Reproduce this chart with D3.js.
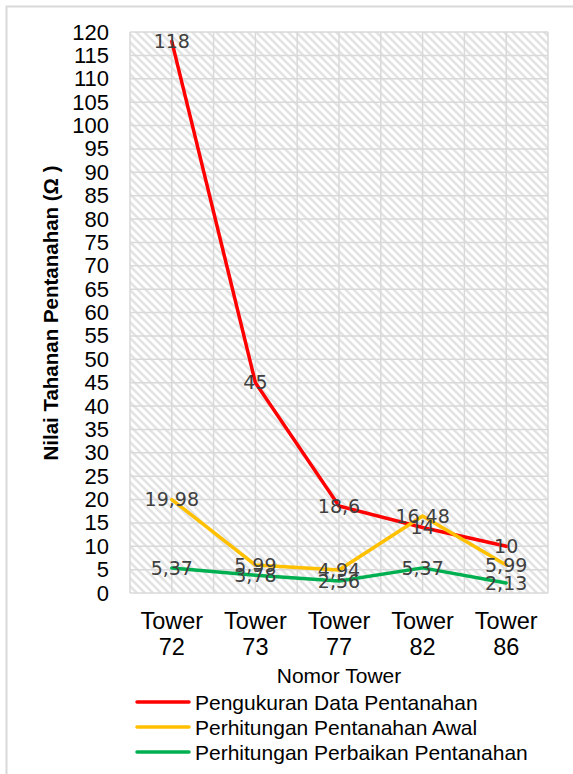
<!DOCTYPE html>
<html>
<head>
<meta charset="utf-8">
<script src="https://cdn.jsdelivr.net/npm/d3@7/dist/d3.min.js"></script>
<style>
  html, body { margin: 0; padding: 0; background: #fff; }
  svg { display: block; }
</style>
</head>
<body>
<svg id="chart" width="573" height="774"></svg>
<script>
// Tower categories and grounding resistance values (Ω)
const categories = ["Tower 72", "Tower 73", "Tower 77", "Tower 82", "Tower 86"];
const pengukuran = [118, 45, 18.6, 14, 10];
const awal = [19.98, 5.99, 4.94, 16.48, 5.99];
const perbaikan = [5.37, 3.78, 2.56, 5.37, 2.13];
const yTicks = d3.range(0, 121, 5);

const seriesList = [
  { name: "Pengukuran Data Pentanahan", values: pengukuran, color: "#FF0000" },
  { name: "Perhitungan Pentanahan Awal", values: awal, color: "#FFC000" },
  { name: "Perhitungan Perbaikan Pentanahan", values: perbaikan, color: "#00B050" }
];

const svg = d3.select("#chart");
const plot = { left: 130, right: 548, top: 32, bottom: 593 };

// Outer chart frame
svg.append("path")
  .attr("d", "M6.5,780 V6.5 H580")
  .attr("fill", "none").attr("stroke", "#d9d9d9").attr("stroke-width", 2);

// Diagonal hatch fill for the plot area
const defs = svg.append("defs");
const pat = defs.append("pattern")
  .attr("id", "hatch").attr("patternUnits", "userSpaceOnUse")
  .attr("width", 8).attr("height", 8);
pat.append("rect").attr("width", 8).attr("height", 8).attr("fill", "#fff");
pat.append("path")
  .attr("d", "M-2,-2 L10,10 M-2,6 L2,10 M6,-2 L10,2")
  .attr("stroke", "#e3e3e3").attr("stroke-width", 2.6);

const x = d3.scaleBand().domain(categories).range([plot.left, plot.right]).padding(0);
const xc = c => x(c) + x.bandwidth() / 2;
const y = d3.scaleLinear().domain([0, 120]).range([plot.bottom, plot.top]);

svg.append("rect")
  .attr("x", plot.left).attr("y", plot.top)
  .attr("width", plot.right - plot.left).attr("height", plot.bottom - plot.top)
  .attr("fill", "url(#hatch)");

// Gridlines
const grid = svg.append("g").attr("stroke", "#d9d9d9").attr("stroke-width", 1.5);
yTicks.forEach(t => {
  grid.append("line").attr("x1", plot.left).attr("x2", plot.right)
    .attr("y1", y(t)).attr("y2", y(t));
});
const vLines = [];
categories.forEach(c => { vLines.push(x(c)); vLines.push(xc(c)); });
vLines.push(plot.right);
vLines.forEach(v => {
  grid.append("line").attr("x1", v).attr("x2", v)
    .attr("y1", plot.top).attr("y2", plot.bottom);
});

// Y axis tick labels
const yAxis = d3.axisLeft(y).tickValues(yTicks).tickSize(0).tickPadding(0);
const gy = svg.append("g").attr("transform", `translate(${plot.left - 21},0)`).call(yAxis);
gy.select(".domain").remove();
gy.selectAll("text")
  .attr("font-family", "'Liberation Sans', Arial, sans-serif")
  .attr("font-size", 22).attr("fill", "#000");

// X axis tick labels (two lines)
const xAxis = d3.axisBottom(x).tickSize(0).tickFormat(() => "");
const gx = svg.append("g").attr("transform", `translate(0,${plot.bottom})`).call(xAxis);
gx.select(".domain").remove();
gx.selectAll(".tick").each(function(d) {
  const parts = d.split(" ");
  const t = d3.select(this).select("text")
    .attr("font-family", "'Liberation Sans', Arial, sans-serif")
    .attr("font-size", 23.5).attr("fill", "#000").attr("y", 0).attr("dy", null);
  t.append("tspan").attr("x", 0).attr("y", 36).text(parts[0]);
  t.append("tspan").attr("x", 0).attr("y", 62).text(parts[1]);
});

// Axis titles
svg.append("text")
  .attr("x", (plot.left + plot.right) / 2).attr("y", 683)
  .attr("text-anchor", "middle")
  .attr("font-family", "'Liberation Sans', Arial, sans-serif")
  .attr("font-size", 21).attr("fill", "#000")
  .text("Nomor Tower");

svg.append("text")
  .attr("transform", "translate(58,313) rotate(-90)")
  .attr("text-anchor", "middle")
  .attr("font-family", "'Liberation Sans', Arial, sans-serif")
  .attr("font-weight", "bold")
  .attr("font-size", 20.5).attr("fill", "#000")
  .text("Nilai Tahanan Pentanahan (Ω )");

// Series lines
const line = d3.line().x((v, i) => xc(categories[i])).y(v => y(v));
seriesList.forEach(s => {
  svg.append("path").datum(s.values)
    .attr("d", line)
    .attr("fill", "none").attr("stroke", s.color)
    .attr("stroke-width", 3.5).attr("stroke-linejoin", "round").attr("stroke-linecap", "round");
});

// Data labels centred on each point
const fmt = v => String(v).replace(".", ",");
seriesList.forEach(s => {
  s.values.forEach((v, i) => {
    svg.append("text")
      .attr("x", xc(categories[i])).attr("y", y(v))
      .attr("dy", "0.36em")
      .attr("text-anchor", "middle")
      .attr("font-family", "'DejaVu Sans', sans-serif")
      .attr("font-size", 19).attr("fill", "#404040")
      .text(fmt(v));
  });
});

// Legend
const legend = svg.append("g");
seriesList.forEach((s, i) => {
  const ly = 702 + i * 25;
  legend.append("line").attr("x1", 137).attr("x2", 189).attr("y1", ly).attr("y2", ly)
    .attr("stroke", s.color).attr("stroke-width", 3.5).attr("stroke-linecap", "round");
  legend.append("text").attr("x", 195).attr("y", ly).attr("dy", "0.36em")
    .attr("font-family", "'Liberation Sans', Arial, sans-serif")
    .attr("font-size", 21).attr("fill", "#000")
    .text(s.name);
});
</script>
</body>
</html>
